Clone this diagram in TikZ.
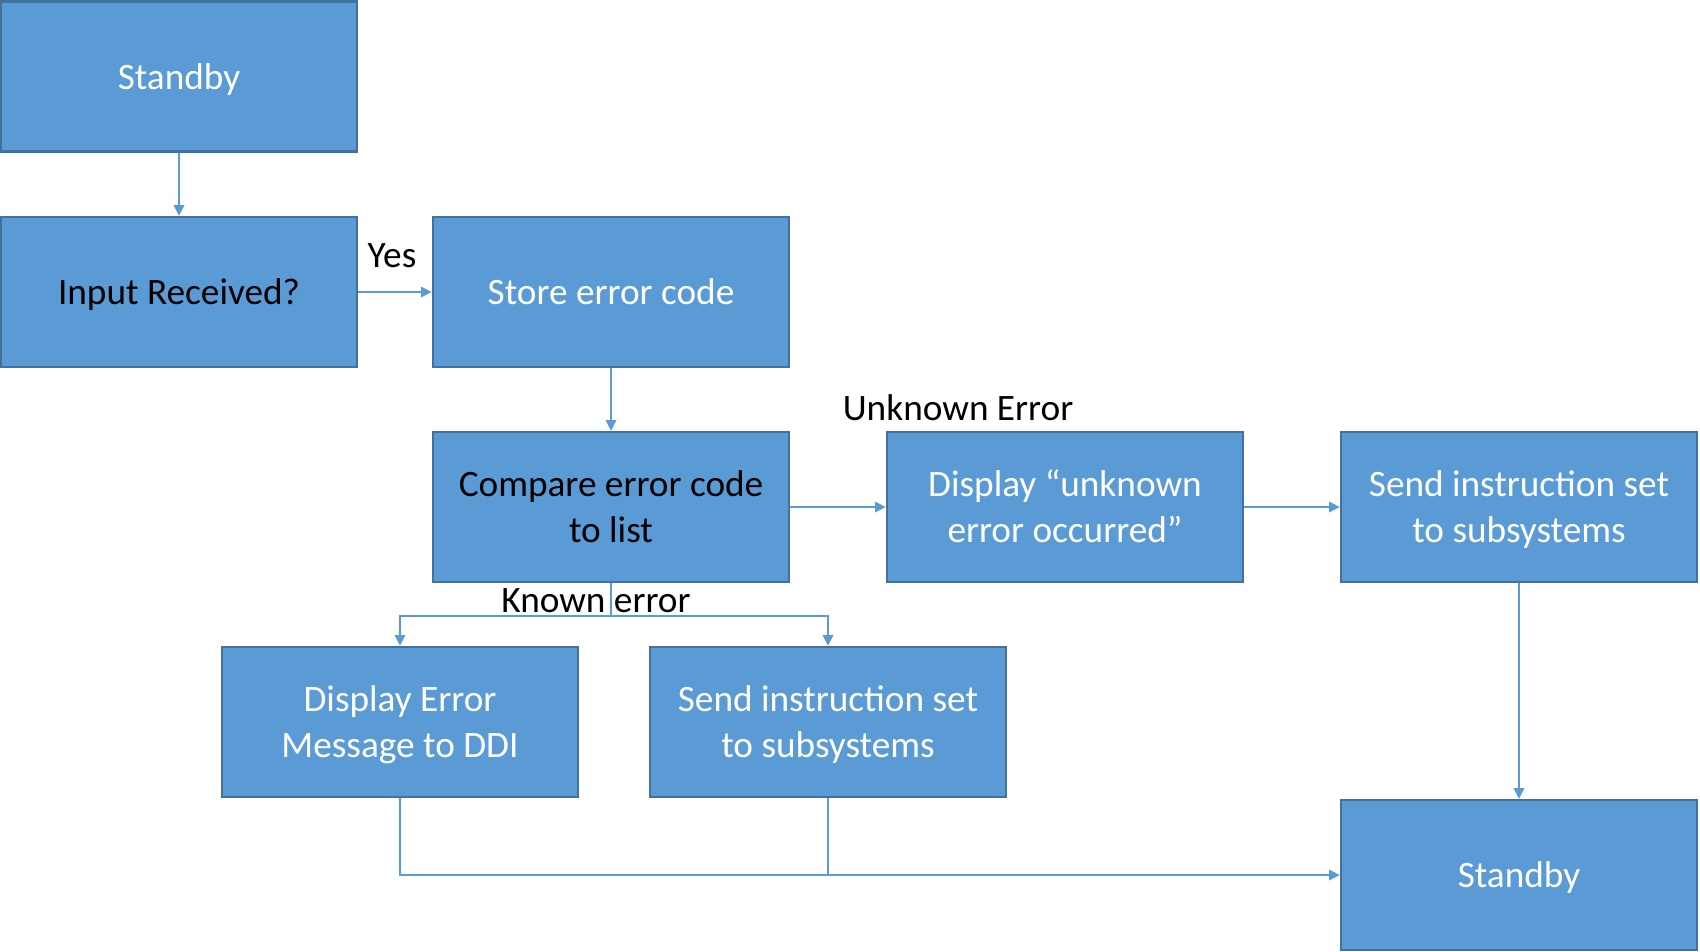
\documentclass[tikz,border=0pt]{standalone}
\usepackage{fontspec}
\setmainfont{Carlito}
\usepackage{tikz}
\usetikzlibrary{arrows.meta}
\definecolor{boxfill}{HTML}{5B9BD5}
\definecolor{boxline}{HTML}{41719C}
\tikzset{
	blockbox/.style={draw=boxline, fill=boxfill, line width=0.7pt, minimum width=3.56cm, minimum height=1.50cm, inner sep=0pt, text width=3.4cm, align=flush center, text height=7.9pt, text depth=0.6pt, text=white, font=\fontsize{10.6}{13}\selectfont},
	twoline/.style={text depth=13.6pt},
	darktext/.style={text=black},
	flowlabel/.style={inner sep=0pt, text=black, font=\fontsize{10.6}{13}\selectfont},
	link/.style={draw=boxfill, line width=0.35pt, -{Triangle[length=3pt,width=3pt]}},
	plainlink/.style={draw=boxfill, line width=0.35pt}
}

\begin{document}
\begin{tikzpicture}[x=0.01cm, y=0.01cm]
		%%%%% START %%%%%
		\useasboundingbox (0,0) rectangle (1700,-951);
		
		\node[blockbox] (standbyTop) at (179,-76.5) {Standby};
		\node[blockbox, darktext] (input) at (179,-292) {Input Received?};
		\node[blockbox] (store) at (611,-292) {Store error code};
		\node[blockbox, twoline, darktext] (compare) at (611,-507) {Compare error code\\to list};
		\node[blockbox, twoline] (unknown) at (1065,-507) {Display “unknown\\error occurred”};
		\node[blockbox, twoline] (sendRight) at (1519,-507) {Send instruction set\\to subsystems};
		\node[blockbox, twoline] (displayErr) at (400,-722) {Display Error\\Message to DDI};
		\node[blockbox, twoline] (sendMid) at (828,-722) {Send instruction set\\to subsystems};
		\node[blockbox] (standbyEnd) at (1519,-875) {Standby};
		
		\node[flowlabel] (yesLabel) at (392,-256) {Yes};
		\node[flowlabel] (unknownLabel) at (958,-408) {Unknown Error};
		\node[flowlabel] (knownLabel) at (596,-601) {Known error};
		
		\coordinate (split) at (611,-616);
		
		\draw[link] (standbyTop) -- (input);
		\draw[link] (input) -- (store);
		\draw[link] (store) -- (compare);
		\draw[plainlink] (compare) -- (split);
		\draw[link] (split) -| (displayErr);
		\draw[link] (split) -| (sendMid);
		\draw[link] (compare) -- (unknown);
		\draw[link] (unknown) -- (sendRight);
		\draw[link] (sendRight) -- (standbyEnd);
		\draw[link] (displayErr.south) |- (standbyEnd.west);
		\draw[plainlink] (sendMid.south) -- (sendMid.south |- standbyEnd.west);
		%%%%% END %%%%%
\end{tikzpicture}
\end{document}
